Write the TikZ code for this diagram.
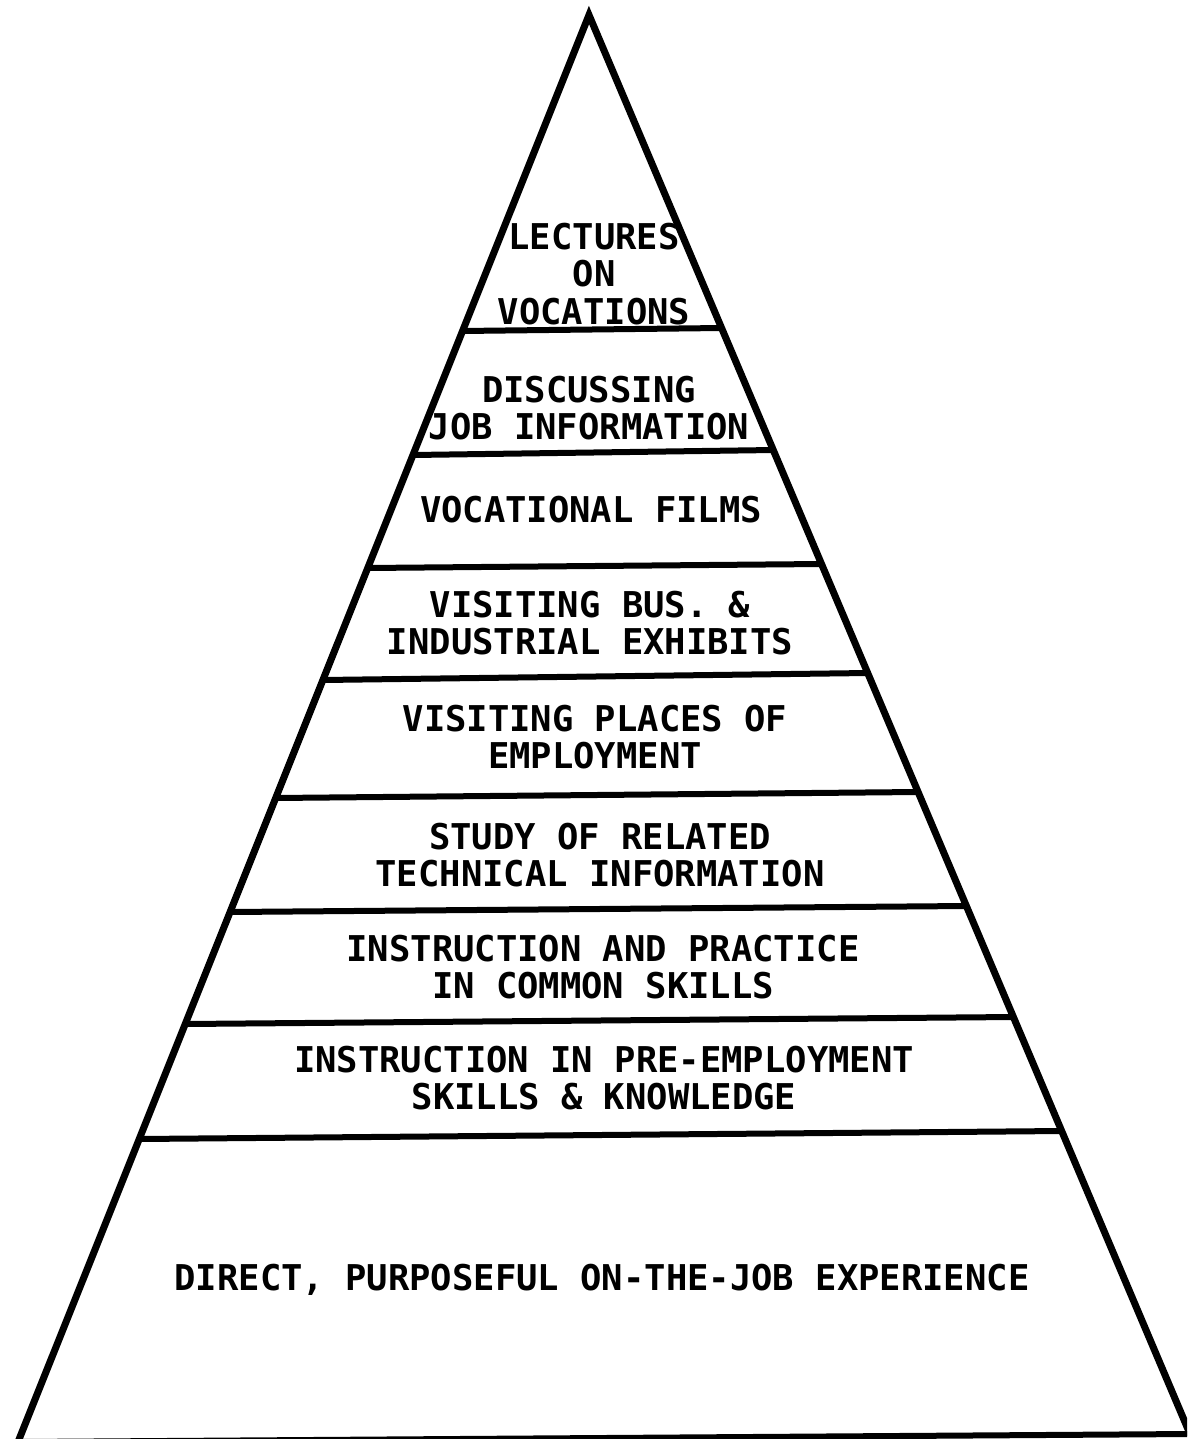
\documentclass[tikz,border=0pt]{standalone}
\usepackage{fontspec}
\newfontfamily\labfont{DejaVu Sans Mono}
\begin{document}
\begin{tikzpicture}[x=1pt,y=-1pt,
  side/.style={line width=7pt,line cap=round,line join=miter},
  band/.style={line width=6pt},
  lbl/.style={font=\labfont\bfseries\fontsize{35.5}{37.5}\selectfont,align=center,inner sep=0pt}]
\useasboundingbox (0,0) rectangle (1187,1439);
\fill[white] (0,0) rectangle (1187,1439);
\begin{scope}
\clip (0,0) rectangle (1187,1439);
% pyramid corners
\coordinate (apex) at (589,15);
\coordinate (bl) at (18,1442);
\coordinate (br) at (1190,1434);
% band end points
\coordinate (l1) at (462,331);  \coordinate (r1) at (722,328);
\coordinate (l2) at (413,455);  \coordinate (r2) at (774,450);
\coordinate (l3) at (367,568);  \coordinate (r3) at (822,564);
\coordinate (l4) at (323,680);  \coordinate (r4) at (868,673);
\coordinate (l5) at (275,798);  \coordinate (r5) at (918,792);
\coordinate (l6) at (230,912);  \coordinate (r6) at (967,906);
\coordinate (l7) at (185,1024); \coordinate (r7) at (1014,1017);
\coordinate (l8) at (139,1139); \coordinate (r8) at (1062,1131);
\draw[side] (bl) -- (apex) -- (br);
\draw[band] (bl) -- (br);
\foreach \i in {1,...,8} \draw[band] (l\i) -- (r\i);
\end{scope}
% labels
\node[lbl] (t1) at (594,274) {LECTURES\\ON\\VOCATIONS};
\node[lbl] (t2) at (589,408) {DISCUSSING\\JOB INFORMATION};
\node[lbl] (t3) at (591,510) {VOCATIONAL FILMS};
\node[lbl] (t4) at (590,623) {VISITING BUS. \&\\INDUSTRIAL EXHIBITS};
\node[lbl] (t5) at (595,737) {VISITING PLACES OF\\EMPLOYMENT};
\node[lbl] (t6) at (600,855) {STUDY OF RELATED\\TECHNICAL INFORMATION};
\node[lbl] (t7) at (603,967) {INSTRUCTION AND PRACTICE\\IN COMMON SKILLS};
\node[lbl] (t8) at (604,1078) {INSTRUCTION IN PRE-EMPLOYMENT\\SKILLS \& KNOWLEDGE};
\node[lbl,anchor=base] (t9) at (602,1290) {DIRECT, PURPOSEFUL ON-THE-JOB EXPERIENCE};
\end{tikzpicture}
\end{document}
